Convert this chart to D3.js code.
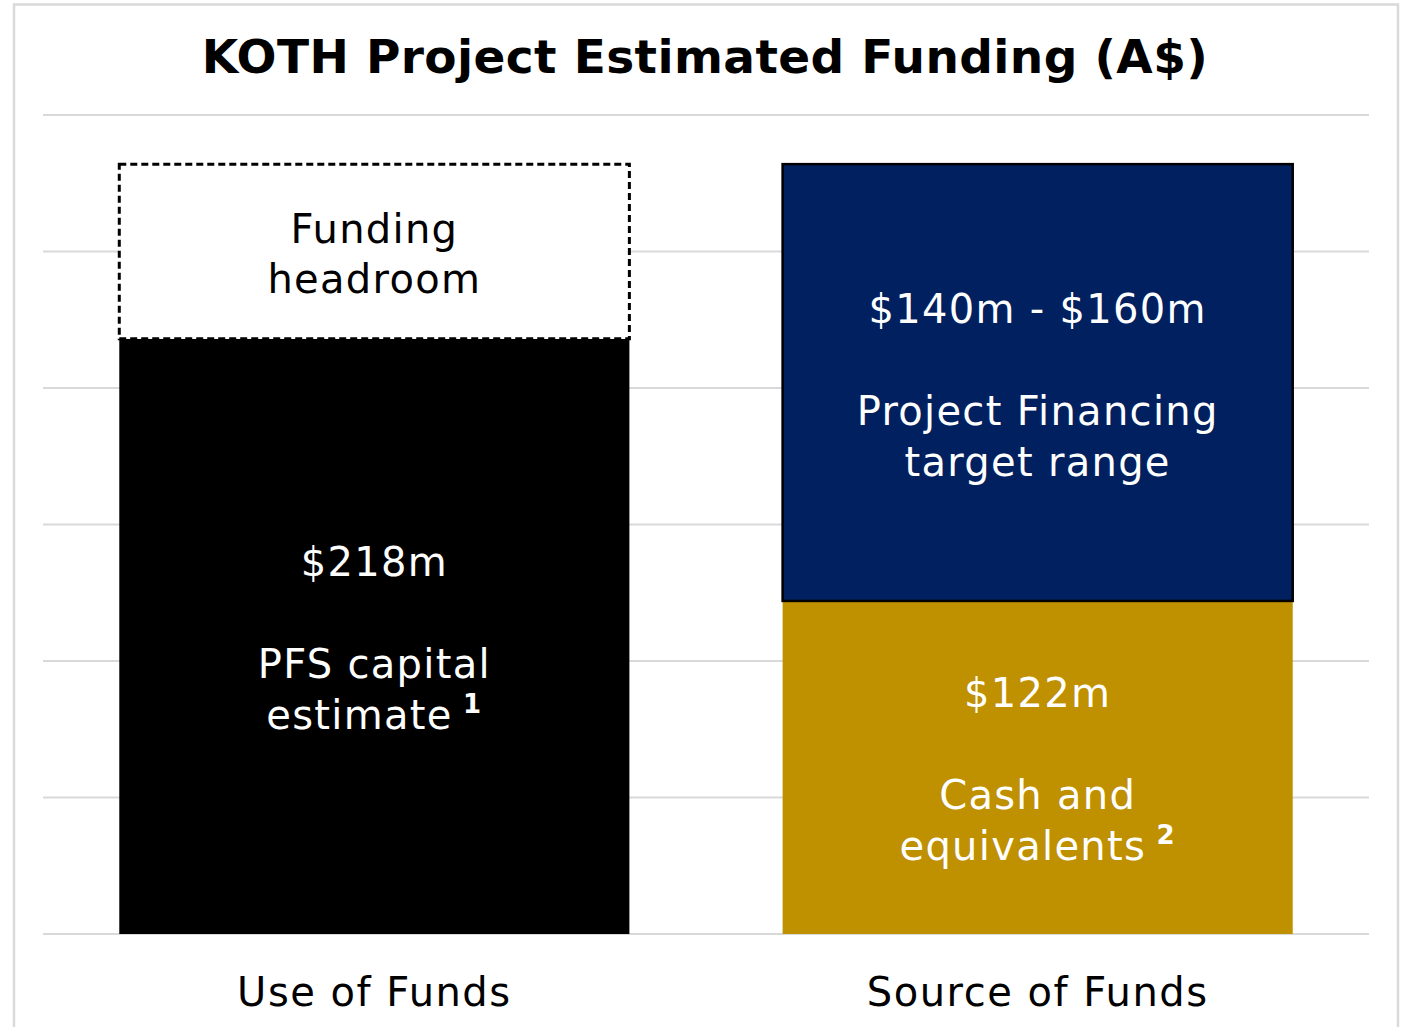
<!DOCTYPE html>
<html lang="en">
<head>
    <meta charset="utf-8">
    <title>KOTH Project Estimated Funding</title>
    <script src="https://d3js.org/d3.v7.min.js"></script>
    <style>
        body { margin: 0; background: #fff; }
        text { font-family: "DejaVu Sans", Verdana, sans-serif; }
    </style>
</head>
<body>
<div id="chart"></div>
<script>
// chart data
var categories = ["Use of Funds", "Source of Funds"];
var baseValues = [218, 122];   // PFS capital estimate / cash and equivalents
var topValues = [64, 160];     // funding headroom / project financing (upper end)
var yTicks = [0, 50, 100, 150, 200, 250, 300];
var baseLabels = [
    ["$218m", "PFS capital", "estimate|1"],
    ["$122m", "Cash and", "equivalents|2"]
];
var topLabels = [
    ["Funding", "headroom"],
    ["$140m - $160m", "Project Financing", "target range"]
];
var title = "KOTH Project Estimated Funding (A$)";

var W = 1409, H = 1027;
var margin = {top: 115, right: 40, bottom: 93, left: 43};

var svg = d3.select("#chart").append("svg")
    .attr("width", W)
    .attr("height", H);

svg.append("rect").attr("width", W).attr("height", H).attr("fill", "#fff");

// outer frame
svg.append("rect")
    .attr("x", 14).attr("y", 4.5)
    .attr("width", 1384).attr("height", 1060)
    .attr("fill", "none")
    .attr("stroke", "#d9d9d9")
    .attr("stroke-width", 2.5);

svg.append("text")
    .attr("x", 705).attr("y", 73)
    .attr("text-anchor", "middle")
    .attr("font-size", 47)
    .attr("font-weight", "bold")
    .attr("letter-spacing", 0.4)
    .text(title);

var x = d3.scaleBand()
    .domain(categories)
    .range([margin.left, W - margin.right])
    .paddingInner(0.231)
    .paddingOuter(0.115);

var y = d3.scaleLinear()
    .domain([0, 300])
    .range([H - margin.bottom, margin.top]);

// gridlines
svg.append("g")
    .selectAll("line")
    .data(yTicks)
    .join("line")
    .attr("x1", margin.left).attr("x2", W - margin.right)
    .attr("y1", function(d) { return y(d); })
    .attr("y2", function(d) { return y(d); })
    .attr("stroke", "#d9d9d9")
    .attr("stroke-width", 2);

// stack the two segments
var rows = categories.map(function(c, i) { return {cat: c, base: baseValues[i], top: topValues[i]}; });
var stack = d3.stack().keys(["base", "top"])(rows);

var fills = {base: ["#000000", "#BF9000"], top: ["#ffffff", "#002060"]};
var strokes = {base: ["none", "none"], top: ["#000", "#000"]};
var dashes = {base: [null, null], top: ["7,4", null]};

stack.forEach(function(layer) {
    svg.append("g")
        .selectAll("rect")
        .data(layer)
        .join("rect")
        .attr("x", function(d) { return x(d.data.cat); })
        .attr("width", x.bandwidth())
        .attr("y", function(d) { return y(d[1]); })
        .attr("height", function(d) { return y(d[0]) - y(d[1]); })
        .attr("fill", function(d, i) { return fills[layer.key][i]; })
        .attr("stroke", function(d, i) { return strokes[layer.key][i]; })
        .attr("stroke-width", function(d, i) { return layer.key === "top" && i === 0 ? 3 : 2.5; })
        .attr("stroke-dasharray", function(d, i) { return dashes[layer.key][i]; });
});

// labels inside segments
function drawLabel(lines, d, cat, color) {
    var cx = x(cat) + x.bandwidth() / 2;
    var mid = (y(d[0]) + y(d[1])) / 2;
    var offs = lines.length === 3 ? [0, 102, 153] : [0, 50];
    var first = mid - (offs[offs.length - 1] - 29) / 2 + 2;
    lines.forEach(function(line, k) {
        var parts = line.split("|");
        var t = svg.append("text")
            .attr("x", cx)
            .attr("y", first + offs[k])
            .attr("text-anchor", "middle")
            .attr("font-size", 40)
            .attr("letter-spacing", 1.3)
            .attr("fill", color);
        t.append("tspan").text(parts[0]);
        if (parts[1]) {
            t.append("tspan")
                .attr("dy", -16)
                .attr("font-size", 26)
                .attr("font-weight", "bold")
                .text(" " + parts[1]);
        }
    });
}

stack[0].forEach(function(d, i) { drawLabel(baseLabels[i], d, categories[i], "#fff"); });
stack[1].forEach(function(d, i) { drawLabel(topLabels[i], d, categories[i], i === 0 ? "#000" : "#fff"); });

// x axis labels
svg.append("g")
    .attr("transform", "translate(0," + (H - margin.bottom) + ")")
    .call(d3.axisBottom(x).tickSize(0).tickPadding(0))
    .call(function(g) { g.select(".domain").remove(); })
    .selectAll("text")
    .attr("y", 72)
    .attr("dy", null)
    .attr("font-size", 40)
    .attr("letter-spacing", 1.5)
    .attr("font-family", "DejaVu Sans, sans-serif")
    .attr("fill", "#000");
</script>
</body>
</html>
